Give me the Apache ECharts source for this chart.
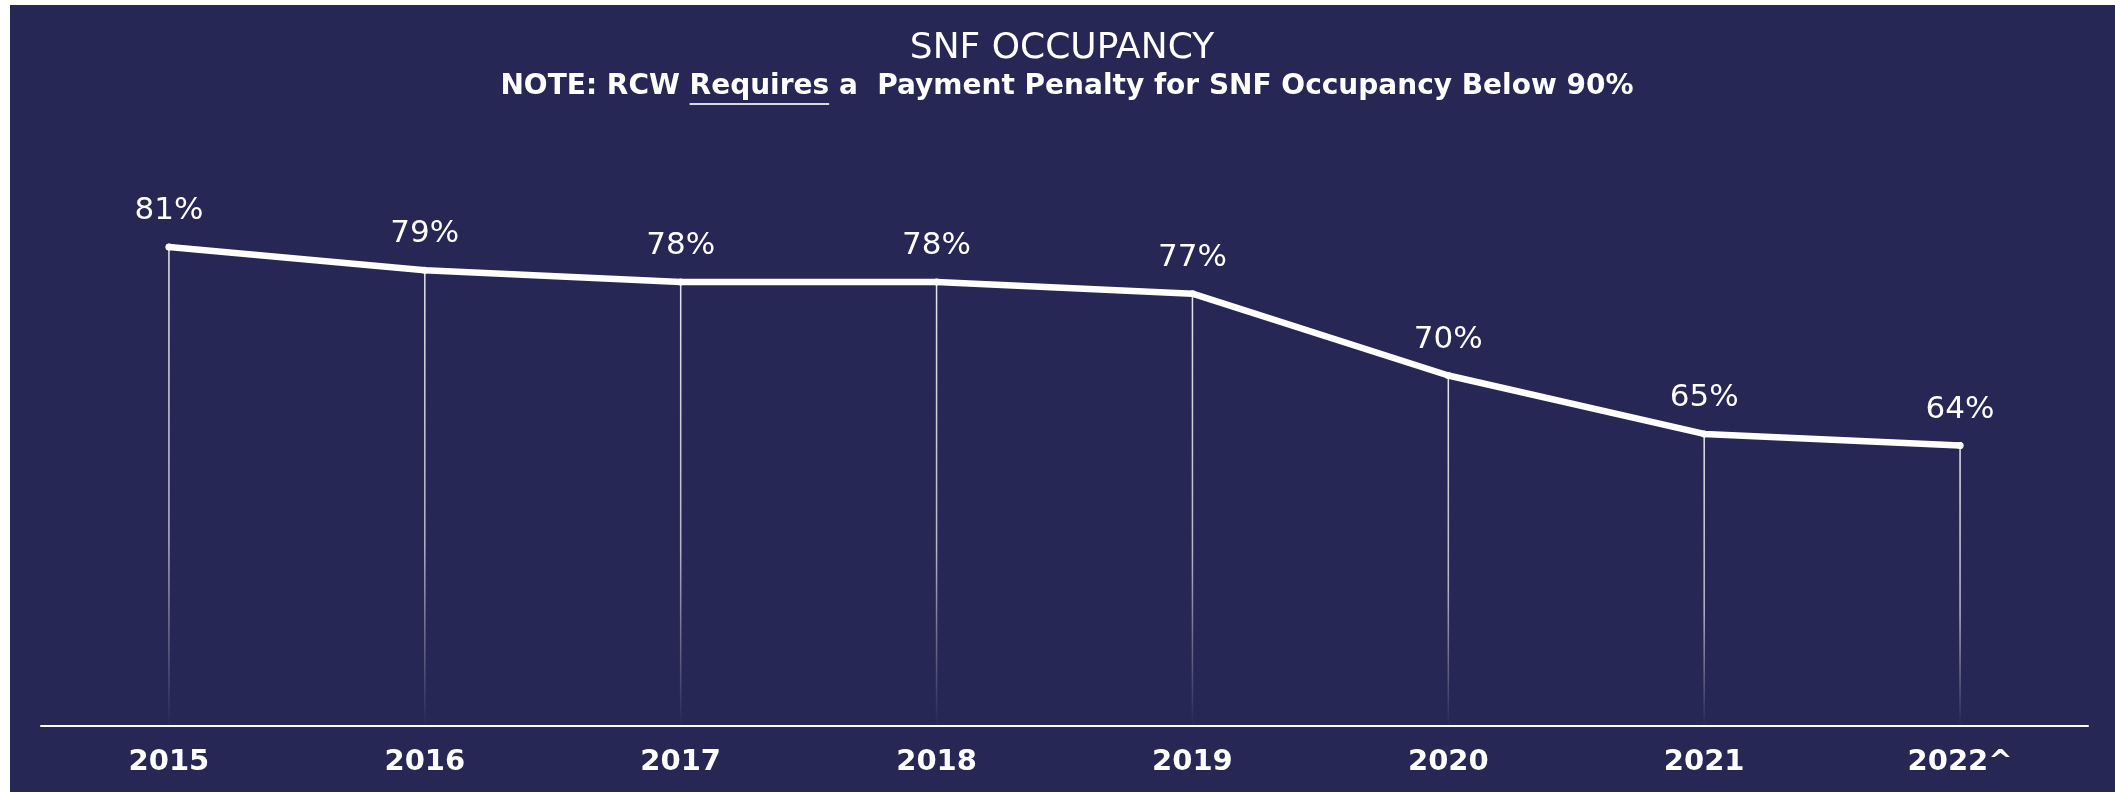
<!DOCTYPE html>
<html>
<head>
<meta charset="utf-8">
<script src="https://cdn.jsdelivr.net/npm/echarts@6/dist/echarts.min.js"></script>
<style>
  html, body { margin: 0; padding: 0; background: #ffffff; }
  #chart { width: 2115px; height: 792px; }
</style>
</head>
<body>
<div id="chart"></div>
<script>
// SNF occupancy by year
const years = ['2015', '2016', '2017', '2018', '2019', '2020', '2021', '2022^'];
const occupancy = [81, 79, 78, 78, 77, 70, 65, 64];
const yMin = 40;
const yMax = 100;

const titleText = 'SNF OCCUPANCY';
const notePrefix = 'NOTE: RCW ';
const noteEmphasis = 'Requires';
const noteSuffix = ' a  Payment Penalty for SNF Occupancy Below 90%';

const panelColor = '#262755';
const titleFont = '36px "DejaVu Sans", sans-serif';
const noteFont = 'bold 28px "DejaVu Sans", sans-serif';
const noteCenterX = 1067;
const noteY = 87;

// measure the note so the underline sits under the emphasised word
const measureCtx = document.createElement('canvas').getContext('2d');
measureCtx.font = noteFont;
const fullW = measureCtx.measureText(notePrefix + noteEmphasis + noteSuffix).width;
const prefixW = measureCtx.measureText(notePrefix).width;
const emphW = measureCtx.measureText(noteEmphasis).width;
const noteLeft = noteCenterX - fullW / 2;

const chart = echarts.init(document.getElementById('chart'), null, { renderer: 'canvas' });

const option = {
  backgroundColor: '#ffffff',
  animation: false,
  grid: { left: 41, right: 27, top: 25, bottom: 66, containLabel: false },
  graphic: [
    { type: 'rect', z: -10, silent: true,
      shape: { x: 10, y: 5, width: 2105, height: 787 },
      style: { fill: panelColor } },
    { type: 'text', z: 10,
      style: { x: 1062, y: 49, text: titleText, fill: '#ffffff',
        font: titleFont, textAlign: 'center', textVerticalAlign: 'middle' } },
    { type: 'text', z: 10,
      style: { x: noteCenterX, y: noteY,
        text: notePrefix + noteEmphasis + noteSuffix, fill: '#ffffff',
        font: noteFont, textAlign: 'center', textVerticalAlign: 'middle' } },
    // underline beneath the emphasised word
    { type: 'line', z: 10,
      shape: { x1: noteLeft + prefixW, y1: 104, x2: noteLeft + prefixW + emphW, y2: 104 },
      style: { stroke: '#d8d8e0', lineWidth: 2 } }
  ],
  xAxis: {
    type: 'category',
    data: years,
    boundaryGap: true,
    axisLine: { show: true, lineStyle: { color: '#ffffff', width: 2 } },
    axisTick: { show: false },
    splitLine: { show: false },
    axisLabel: {
      color: '#ffffff', fontSize: 29, fontWeight: 'bold',
      fontFamily: '"DejaVu Sans", sans-serif', margin: 22
    }
  },
  yAxis: {
    type: 'value', min: yMin, max: yMax, show: false,
    splitLine: { show: false }
  },
  series: [
    {
      // drop lines from each point to the axis, fading downward
      type: 'custom',
      z: 1,
      silent: true,
      data: years.map((y, i) => [i, occupancy[i]]),
      renderItem: function (params, api) {
        const top = api.coord([api.value(0), api.value(1)]);
        const bottom = api.coord([api.value(0), yMin]);
        return {
          type: 'line',
          shape: { x1: top[0], y1: top[1], x2: bottom[0], y2: bottom[1] },
          style: {
            lineWidth: 1.5,
            stroke: new echarts.graphic.LinearGradient(0, top[1], 0, bottom[1], [
              { offset: 0, color: 'rgba(230,230,240,1)' },
              { offset: 0.6, color: 'rgba(230,230,240,0.75)' },
              { offset: 1, color: 'rgba(230,230,240,0)' }
            ], true)
          }
        };
      }
    },
    {
      type: 'line',
      z: 3,
      data: occupancy,
      symbol: 'circle',
      symbolSize: 7,
      itemStyle: { color: '#ffffff' },
      lineStyle: { color: '#ffffff', width: 6.5, cap: 'round', join: 'round' },
      label: {
        show: true,
        position: 'top',
        distance: 17,
        color: '#ffffff',
        fontSize: 31,
        fontFamily: '"DejaVu Sans", sans-serif',
        formatter: (p) => p.value + '%'
      }
    }
  ]
};

chart.setOption(option);
</script>
</body>
</html>
